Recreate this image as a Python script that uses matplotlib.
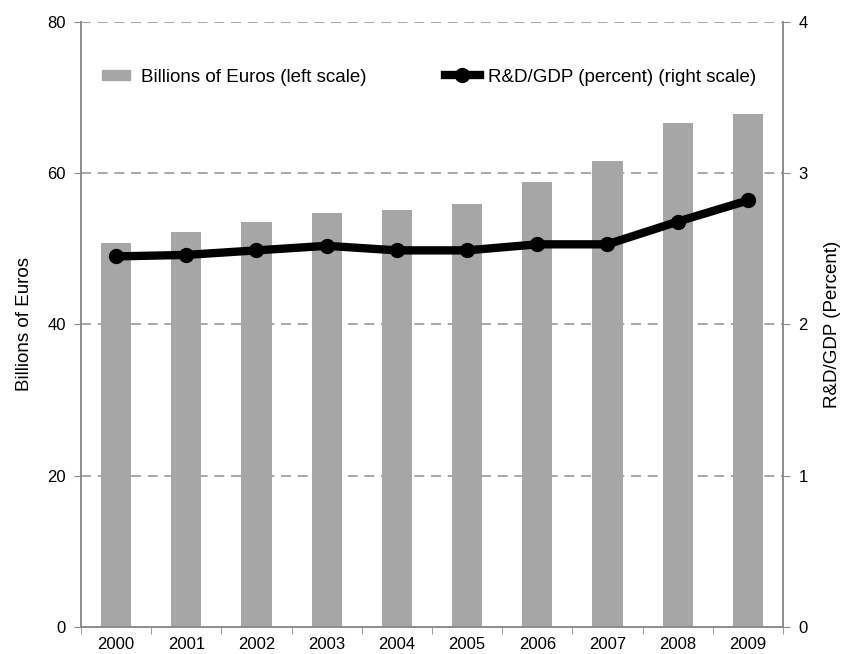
import numpy as np
from matplotlib import pyplot as plt
from matplotlib.lines import Line2D
from matplotlib.patches import Patch

plt.rcParams['font.family'] = ['Liberation Sans', 'DejaVu Sans']

years = ["2000", "2001", "2002", "2003", "2004", "2005", "2006", "2007", "2008", "2009"]
billions_eur = [50.8, 52.2, 53.5, 54.7, 55.1, 55.9, 58.9, 61.6, 66.6, 67.8]
rd_gdp = [2.45, 2.46, 2.49, 2.52, 2.49, 2.49, 2.53, 2.53, 2.68, 2.82]

bar_color = "#a6a6a6"
axis_color = "#8c8c8c"

fig = plt.figure(figsize=(8.46, 6.54), dpi=100)
ax = fig.add_axes([0.0957, 0.0413, 0.8298, 0.9251])
ax2 = ax.twinx()

x = np.arange(len(years))
ax.bar(x, billions_eur, width=0.43, color=bar_color, zorder=2)
ax2.plot(x, rd_gdp, color="black", lw=6, marker="o", ms=10, zorder=3)

ax.set_xlim(-0.5, len(years) - 0.5)
ax.set_ylim(0, 80)
ax2.set_ylim(0, 4)
ax.set_yticks([0, 20, 40, 60, 80])
ax2.set_yticks([0, 1, 2, 3, 4])

# dashed gridlines
for v in [20, 40, 60, 80]:
    ax.axhline(v, color="#999999", lw=1.2, ls=(0, (6, 4)), zorder=1)

ax.set_xticks(x)
ax.set_xticklabels(years)
ax.set_xticks(np.arange(-0.5, len(years)), minor=True)
ax.tick_params(axis="x", which="major", length=0, pad=7, labelsize=12)
ax.tick_params(axis="x", which="minor", length=5, color=axis_color, direction="out")
ax.tick_params(axis="y", length=5, color=axis_color, direction="out", labelsize=12, pad=6)
ax2.tick_params(axis="y", length=5, color=axis_color, direction="out", labelsize=12, pad=6)

for a in (ax, ax2):
    a.spines["top"].set_visible(False)
    for s in ("left", "right", "bottom"):
        a.spines[s].set_color(axis_color)
        a.spines[s].set_linewidth(1.2)

ax.set_ylabel("Billions of Euros", fontsize=13.5, labelpad=10)
ax2.set_ylabel("R&D/GDP (Percent)", fontsize=13.5, labelpad=12)

leg1 = ax2.legend([Patch(color=bar_color)], ["Billions of Euros (left scale)"],
                  loc="center left", bbox_to_anchor=(0.03, 0.909), frameon=False,
                  fontsize=13.5, handlelength=1.5, handleheight=0.5, handletextpad=0.6,
                  borderpad=0, borderaxespad=0)
ax2.add_artist(leg1)
ax2.legend([Line2D([0], [0], color="black", lw=6, marker="o", ms=10)],
           ["R&D/GDP (percent) (right scale)"],
           loc="center left", bbox_to_anchor=(0.518, 0.909), frameon=False,
           fontsize=13.5, handlelength=1.9, handletextpad=0.4,
           borderpad=0, borderaxespad=0)

fig.savefig("out.png", dpi=100)
